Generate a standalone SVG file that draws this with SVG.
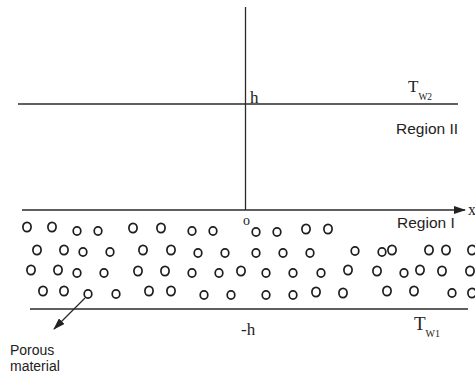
<svg xmlns="http://www.w3.org/2000/svg" width="475" height="376" viewBox="0 0 475 376">
<style>
.ln{stroke:#2a2a2a;stroke-width:1.3;fill:none}
.pU{fill:none;stroke:#1e1e1e;stroke-width:1.7}
.sans{font-family:"Liberation Sans",Arial,sans-serif;fill:#222}
.serif{font-family:"Liberation Serif","Times New Roman",serif;fill:#222}
</style>
<defs>
<marker id="ah" markerWidth="12" markerHeight="8" refX="11" refY="4" orient="auto" markerUnits="userSpaceOnUse">
<path d="M0,0 L12,4 L0,8 Z" fill="#222"/>
</marker>
<ellipse id="U" rx="4.1" ry="4.7" class="pU"/>
<ellipse id="L" rx="3.8" ry="4.1" class="pU"/>
</defs>
<rect width="475" height="376" fill="#fff"/>
<g id="connectors">
<line class="ln" x1="245.5" y1="7" x2="245.5" y2="210"/>
<line class="ln" x1="18" y1="104" x2="458" y2="104"/>
<line class="ln" x1="22" y1="210" x2="465" y2="210" marker-end="url(#ah)"/>
<line class="ln" x1="30" y1="309" x2="468" y2="309"/>
<line class="ln" x1="85" y1="298" x2="54" y2="329" marker-end="url(#ah)"/>
</g>
<g id="particles">
<use href="#U" x="27" y="227"/><use href="#U" x="52" y="227"/><use href="#L" x="77" y="231"/><use href="#L" x="98" y="231"/>
<use href="#U" x="133" y="228"/><use href="#U" x="161" y="228"/><use href="#L" x="192" y="231"/><use href="#L" x="213" y="231"/>
<use href="#L" x="256" y="232"/><use href="#L" x="277" y="232"/><use href="#U" x="306" y="229"/><use href="#U" x="328" y="229"/>

<use href="#U" x="37" y="250"/><use href="#U" x="64" y="250"/><use href="#L" x="83" y="252"/><use href="#L" x="110" y="252"/>
<use href="#U" x="143" y="250"/><use href="#U" x="171" y="250"/><use href="#L" x="198" y="253"/><use href="#L" x="225" y="253"/>
<use href="#L" x="256" y="253"/><use href="#L" x="283" y="253"/><use href="#L" x="310" y="253"/><use href="#L" x="355" y="251"/>
<use href="#L" x="382" y="252"/><use href="#U" x="392" y="250"/><use href="#U" x="429" y="250"/><use href="#U" x="446" y="250"/><use href="#U" x="472" y="250"/>

<use href="#U" x="31" y="270"/><use href="#U" x="58" y="270"/><use href="#L" x="77" y="273"/><use href="#L" x="104" y="273"/>
<use href="#U" x="138" y="271"/><use href="#U" x="165" y="271"/><use href="#L" x="192" y="273"/><use href="#L" x="219" y="273"/>
<use href="#U" x="241" y="271"/><use href="#L" x="266" y="273"/><use href="#L" x="293" y="273"/><use href="#L" x="321" y="273"/>
<use href="#U" x="348" y="270"/><use href="#U" x="377" y="271"/><use href="#L" x="404" y="273"/><use href="#U" x="420" y="270"/>
<use href="#U" x="442" y="271"/><use href="#U" x="470" y="271"/>

<use href="#U" x="43" y="291"/><use href="#U" x="64" y="291"/><use href="#L" x="88" y="294"/><use href="#L" x="116" y="294"/>
<use href="#U" x="149" y="291"/><use href="#U" x="171" y="291"/><use href="#L" x="204" y="295"/><use href="#L" x="231" y="295"/>
<use href="#L" x="266" y="295"/><use href="#L" x="293" y="295"/><use href="#U" x="316" y="292"/><use href="#U" x="343" y="293"/>
<use href="#U" x="387" y="291"/><use href="#U" x="414" y="291"/><use href="#L" x="452" y="293"/><use href="#U" x="472" y="293"/>
</g>
<g id="labels">
<text class="serif" x="250" y="103" font-size="17">h</text>
<text class="serif" x="408" y="92" font-size="17">T<tspan font-size="9.5" dy="8">W2</tspan></text>
<text class="sans" x="396" y="134" font-size="15.5">Region II</text>
<text class="serif" x="243" y="225" font-size="14">o</text>
<text class="serif" x="468" y="215" font-size="16">x</text>
<text class="sans" x="397" y="228" font-size="15.5">Region I</text>
<text class="serif" x="241" y="335" font-size="17">-h</text>
<text class="serif" x="414" y="330" font-size="19">T<tspan font-size="10" dy="7">W1</tspan></text>
<text class="sans" x="10" y="355" font-size="14">Porous</text>
<text class="sans" x="10" y="371" font-size="14">material</text>
</g>
</svg>
